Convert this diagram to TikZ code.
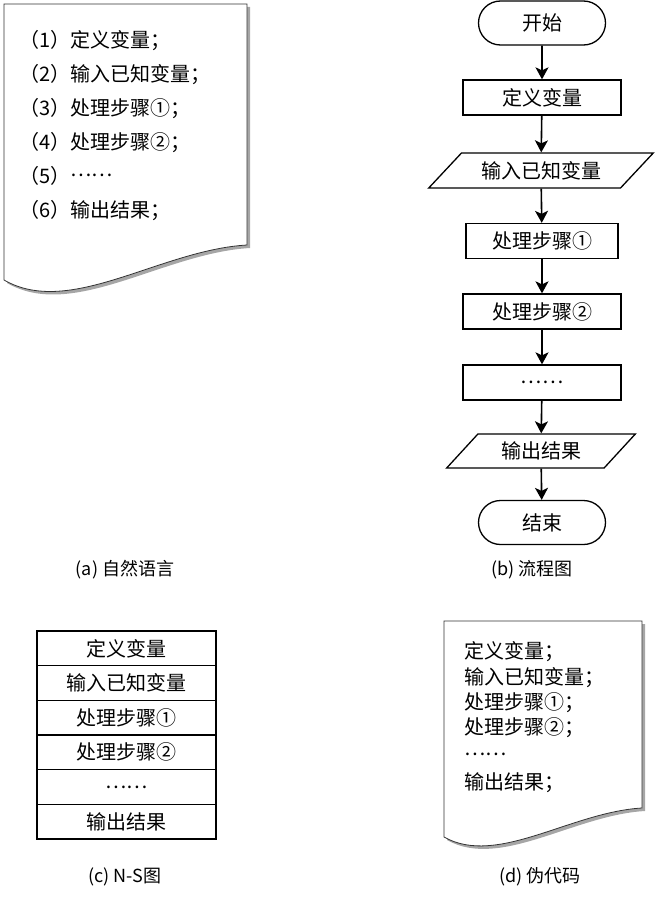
\documentclass[tikz,border=0pt]{standalone}
\usepackage{fontspec}
\setmainfont{Noto Sans CJK SC}
\usetikzlibrary{positioning,arrows.meta,shapes.geometric,shapes.misc,shadows}
\newcommand\middots{\vphantom{定}\raisebox{.33em}{……}}

\begin{document}
\begin{tikzpicture}[x=1pt,y=-1pt,
    every node/.style={font=\fontsize{20}{24}\selectfont,inner sep=0pt},
    sheet/.style={draw=black!80,line width=.8pt,fill=white,
      drop shadow={shadow xshift=3pt,shadow yshift=-3pt,opacity=.7}},
    stepbox/.style={draw,line width=1.3pt,minimum width=158pt,minimum height=35pt},
    term/.style={draw,line width=1.3pt,rounded rectangle,minimum width=127pt,minimum height=44pt},
    io/.style 2 args={draw,line width=1.3pt,trapezium,trapezium stretches=true,
      trapezium left angle=#1,trapezium right angle=#2,minimum height=35pt},
    nsrow/.style={draw,line width=1.3pt,minimum width=179pt,minimum height=34.7pt},
    flow/.style={line width=1.6pt,-{Stealth[length=12pt,width=13pt,inset=3pt]}},
    caption/.style={font=\fontsize{18}{22}\selectfont}]
  \useasboundingbox (0,0) rectangle (660,899);

  % (a) natural language
  \draw[sheet] (4,4) -- (247,4) -- (247,245)
    .. controls (160,250) and (70,318) .. (4,280) -- cycle;
  \foreach \t [count=\i] in {（1）定义变量；,（2）输入已知变量；,（3）处理步骤①；,
      （4）处理步骤②；,（5）\middots,（6）输出结果；}
    \node[anchor=base west] (nl\i) at (19,{13.5+34*\i}) {\t};
  \node[caption] (capa) at (125,570) {(a) 自然语言};

  % (b) flow chart
  \node[term] (start) at (542,23) {开始};
  \node[stepbox] (def) at (542,97.5) {定义变量};
  \node[io={37}{143},minimum width=225pt] (inp) at (541,170.5) {输入已知变量};
  \node[stepbox,minimum width=152pt] (st1) at (542,241) {处理步骤①};
  \node[stepbox] (st2) at (542,311.5) {处理步骤②};
  \node[stepbox] (more) at (542,382.5) {\middots};
  \node[io={43}{137},minimum width=189pt,minimum height=34pt] (outp) at (541,451) {输出结果};
  \node[term] (stop) at (542,522.5) {结束};
  \foreach \a/\b in {start/def,def/inp,inp/st1,st1/st2,st2/more,more/outp,outp/stop}
    \draw[flow] (\a) -- (\b);
  \node[caption] (capb) at (532,570) {(b) 流程图};

  % (c) N-S chart
  \foreach \t [count=\i] in {定义变量,输入已知变量,处理步骤①,处理步骤②,\middots,输出结果}
    \node[nsrow] (ns\i) at (126.5,{631+34.67*(\i-0.5)}) {\t};
  \node[caption] (capc) at (125,877) {(c) N-S图};

  % (d) pseudo code
  \draw[sheet] (444,621) -- (642,621) -- (642,808)
    .. controls (571,812) and (497,867) .. (444,837) -- cycle;
  \foreach \t/\yy [count=\i] in {定义变量；/651,输入已知变量；/677,处理步骤①；/702,
      处理步骤②；/727,\middots/755,输出结果；/782}
    \node[anchor=base west] (pc\i) at (464,{\yy+7.5}) {\t};
  \node[caption] (capd) at (540,877) {(d) 伪代码};
\end{tikzpicture}
\end{document}
